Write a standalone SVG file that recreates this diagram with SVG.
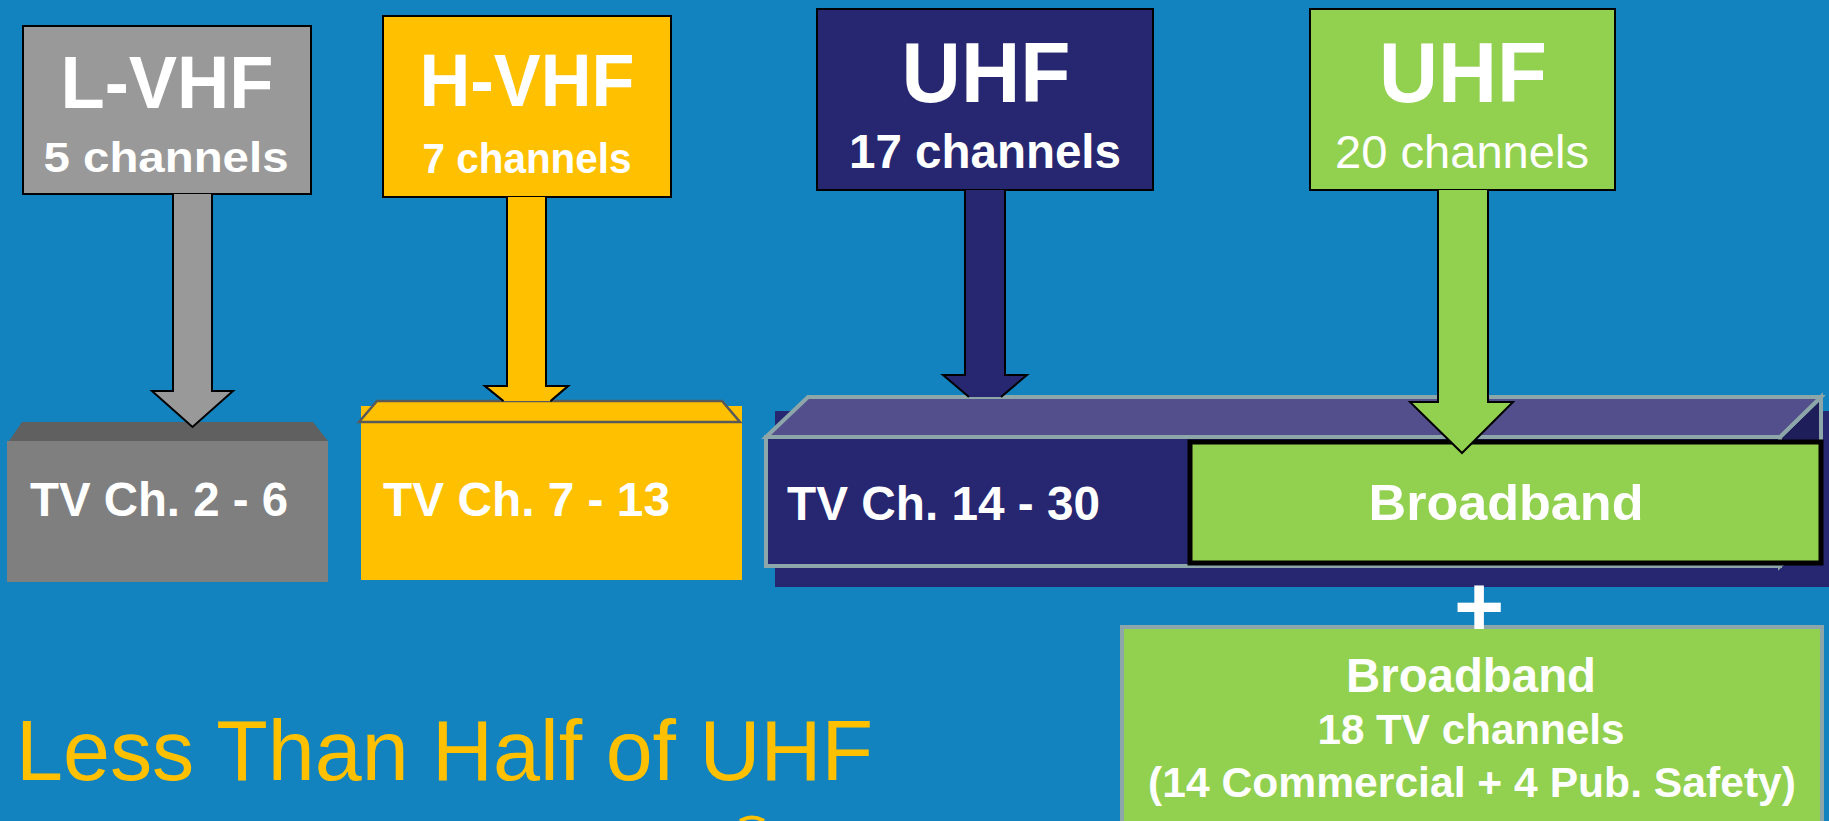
<svg xmlns="http://www.w3.org/2000/svg" width="1829" height="821" viewBox="0 0 1829 821">
<style>
.t{font-family:"Liberation Sans",Arial,sans-serif;fill:#fff;}
.b{font-weight:bold;}
.lbl{stroke:#000;stroke-width:2;}
.arr{stroke:#000;stroke-width:2;stroke-linejoin:miter;}
.teal{stroke:#8CA6A9;stroke-width:4;}
</style>
<rect x="0" y="0" width="1829" height="821" fill="#1283BE"/>

<g id="lvhf">
<rect class="lbl" x="23" y="26" width="288" height="168" fill="#999999"/>
<text class="t b" x="167" y="108" font-size="75" text-anchor="middle" textLength="213" lengthAdjust="spacingAndGlyphs">L-VHF</text>
<text class="t b" x="166" y="172" font-size="43" text-anchor="middle" textLength="245" lengthAdjust="spacingAndGlyphs">5 channels</text>
</g>

<g id="hvhf">
<rect class="lbl" x="383" y="16" width="288" height="181" fill="#FFC000"/>
<text class="t b" x="527" y="106" font-size="75" text-anchor="middle" textLength="215" lengthAdjust="spacingAndGlyphs">H-VHF</text>
<text class="t b" x="527" y="173" font-size="42" text-anchor="middle" textLength="209" lengthAdjust="spacingAndGlyphs">7 channels</text>
</g>

<g id="uhf17">
<rect class="lbl" x="817" y="9" width="336" height="181" fill="#262671"/>
<text class="t b" x="986" y="102" font-size="86" text-anchor="middle" textLength="169" lengthAdjust="spacingAndGlyphs">UHF</text>
<text class="t b" x="985" y="168" font-size="48" text-anchor="middle" textLength="272" lengthAdjust="spacingAndGlyphs">17 channels</text>
</g>

<g id="uhf20">
<rect class="lbl" x="1310" y="9" width="305" height="181" fill="#92D050"/>
<text class="t b" x="1463" y="102" font-size="86" text-anchor="middle" textLength="168" lengthAdjust="spacingAndGlyphs">UHF</text>
<text class="t" x="1462" y="168" font-size="47" text-anchor="middle" textLength="254" lengthAdjust="spacingAndGlyphs">20 channels</text>
</g>

<g id="tv2-6">
<rect x="7" y="441" width="321" height="141" fill="#7F7F7F"/>
<polygon points="9,441 22,422 313,422 328,441" fill="#606060"/>
<text class="t b" x="30" y="516" font-size="48" textLength="258" lengthAdjust="spacingAndGlyphs">TV Ch. 2 - 6</text>
</g>

<g id="tv7-13">
<rect x="361" y="406" width="381" height="174" fill="#FFC000"/>
<polygon points="359,422 377,401 722,401 740,422" fill="#FFC000" stroke="#595959" stroke-width="2.5"/>
<text class="t b" x="383" y="516" font-size="48" textLength="287" lengthAdjust="spacingAndGlyphs">TV Ch. 7 - 13</text>
</g>

<g id="tv14-30">
<rect x="775" y="411" width="1054" height="176" fill="#262671"/>
<polygon class="teal" points="1780,437 1821,397 1821,527 1780,566" fill="#1E1E5A"/>
<polygon class="teal" points="766,437 808,397 1821,397 1780,437" fill="#534F8C"/>
<rect class="teal" x="766" y="437" width="1014" height="129" fill="#262671"/>
<text class="t b" x="787" y="520" font-size="48" textLength="313" lengthAdjust="spacingAndGlyphs">TV Ch. 14 - 30</text>
</g>

<g id="broadband">
<rect x="1190" y="442" width="631" height="121" fill="#92D050" stroke="#000" stroke-width="5"/>
<text class="t b" x="1506" y="520" font-size="50" text-anchor="middle" textLength="275" lengthAdjust="spacingAndGlyphs">Broadband</text>
</g>

<g id="broadband18">
<rect x="1122" y="627" width="700" height="205" fill="#92D050" stroke="#8CA6A9" stroke-width="4"/>
<text class="t b" x="1471" y="692" font-size="48" text-anchor="middle" textLength="250" lengthAdjust="spacingAndGlyphs">Broadband</text>
<text class="t b" x="1471" y="744" font-size="42" text-anchor="middle" textLength="307" lengthAdjust="spacingAndGlyphs">18 TV channels</text>
<text class="t b" x="1472" y="797" font-size="42" text-anchor="middle" textLength="648" lengthAdjust="spacingAndGlyphs">(14 Commercial + 4 Pub. Safety)</text>
</g>

<g id="plus">
<text class="t b" x="1479" y="636" font-size="86" text-anchor="middle">+</text>
</g>

<g id="caption">
<text class="t" x="16" y="780" font-size="85" fill="#FFC000" style="fill:#FFC000" textLength="857" lengthAdjust="spacingAndGlyphs">Less Than Half of UHF</text>
<path d="M 740 821 Q 752 814 764 821" fill="none" stroke="#FFC000" stroke-width="4"/>
</g>

<g id="connectors">
<path class="arr" d="M 173 194 L 173 391 L 152 391 L 192.5 427 L 233 391 L 212 391 L 212 194" fill="#999999"/>
<path class="arr" d="M 507 197 L 507 386 L 485 386 L 503.5 401 M 550.5 401 L 568 386 L 546 386 L 546 197" fill="none"/>
<path d="M 507 197 L 507 386 L 485 386 L 503.5 401 L 550.5 401 L 568 386 L 546 386 L 546 197 Z" fill="#FFC000"/>
<path class="arr" d="M 507 197 L 507 386 L 485 386 L 503.5 401 M 550.5 401 L 568 386 L 546 386 L 546 197" fill="none"/>
<path d="M 965 190 L 965 375 L 943 375 L 969 397 L 1001 397 L 1027 375 L 1005 375 L 1005 190 Z" fill="#262671"/>
<path class="arr" d="M 965 190 L 965 375 L 943 375 L 969 397 M 1001 397 L 1027 375 L 1005 375 L 1005 190" fill="none"/>
<path class="arr" d="M 1438 190 L 1438 402 L 1410 402 L 1462 453 L 1513 402 L 1488 402 L 1488 190" fill="#92D050"/>
</g>
</svg>
